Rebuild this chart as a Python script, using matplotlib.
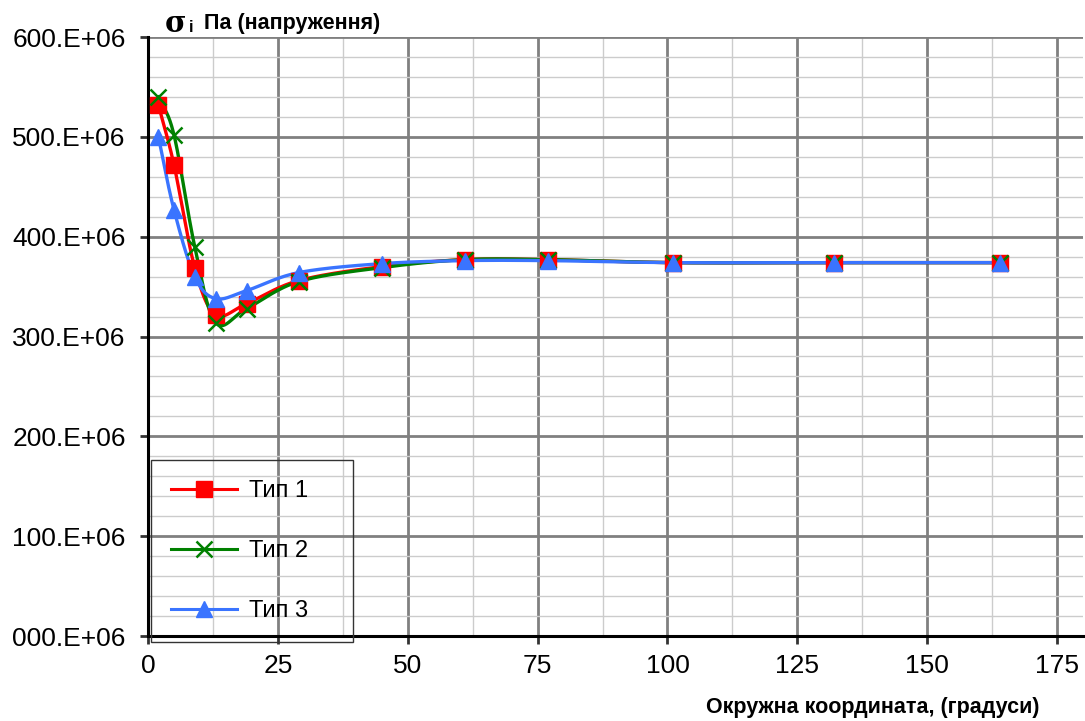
import numpy as np
import matplotlib
matplotlib.use('Agg')
import matplotlib.pyplot as plt
from matplotlib.ticker import MultipleLocator, FuncFormatter

plt.rcParams['font.family'] = ['Liberation Sans', 'DejaVu Sans']

# Кутова координата точок (градуси)
kut = [2, 5, 9, 13, 19, 29, 45, 61, 77, 101, 132, 164]

# Напруження для трьох типів (Па)
typ1 = [532e6, 472e6, 369e6, 322e6, 333e6, 356e6, 370e6, 377e6, 377e6, 374e6, 374e6, 374e6]
typ2 = [540e6, 502e6, 390e6, 314e6, 328e6, 355e6, 369e6, 377e6, 377e6, 374e6, 374e6, 374e6]
typ3 = [500e6, 427e6, 360e6, 338e6, 346e6, 364e6, 373e6, 376e6, 376e6, 374e6, 374e6, 374e6]

nazvy = ['Тип 1', 'Тип 2', 'Тип 3']
kolory = ['#ff0000', '#008000', '#3a74ff']
markery = ['s', 'x', '^']


def smooth(x, y, n=30):
    # згладжування як у Excel: сплайн Катмулла-Рома
    x = np.asarray(x, float)
    y = np.asarray(y, float)
    px = np.concatenate([[2 * x[0] - x[1]], x, [2 * x[-1] - x[-2]]])
    py = np.concatenate([[2 * y[0] - y[1]], y, [2 * y[-1] - y[-2]]])
    xs, ys = [], []
    t = np.linspace(0, 1, n)
    for i in range(1, len(px) - 2):
        p0, p1, p2, p3 = px[i - 1:i + 3]
        q0, q1, q2, q3 = py[i - 1:i + 3]
        b = [p1, p1 + (p2 - p0) / 6, p2 - (p3 - p1) / 6, p2]
        c = [q1, q1 + (q2 - q0) / 6, q2 - (q3 - q1) / 6, q2]
        w = [(1 - t) ** 3, 3 * (1 - t) ** 2 * t, 3 * (1 - t) * t ** 2, t ** 3]
        xs.append(sum(wi * bi for wi, bi in zip(w, b)))
        ys.append(sum(wi * ci for wi, ci in zip(w, c)))
    return np.concatenate(xs), np.concatenate(ys)


fig = plt.figure(figsize=(10.85, 7.21), dpi=100)
ax = fig.add_axes([148 / 1085, 1 - 636 / 721, (1083 - 148) / 1085, (636 - 37) / 721])

for y, nm, c, m in zip([typ1, typ2, typ3], nazvy, kolory, markery):
    sx, sy = smooth(kut, y)
    ax.plot(sx, sy, color=c, lw=2.4, zorder=3)
    ms = 12 if m == 'x' else 11
    mew = 1.8 if m == 'x' else 1
    ax.plot(kut, y, ls='none', marker=m, ms=ms, mew=mew, color=c, zorder=4)
    ax.plot([], [], color=c, lw=2.2, marker=m, ms=ms, mew=mew, label=nm)

ax.set_xlim(0, 180)
ax.set_ylim(0, 600e6)
ax.xaxis.set_major_locator(MultipleLocator(25))
ax.xaxis.set_minor_locator(MultipleLocator(12.5))
ax.yaxis.set_major_locator(MultipleLocator(100e6))
ax.yaxis.set_minor_locator(MultipleLocator(20e6))
ax.yaxis.set_major_formatter(FuncFormatter(lambda v, p: '%03d.E+06' % round(v / 1e6)))

ax.grid(which='major', color='#808080', lw=2)
ax.grid(which='minor', color='#cccccc', lw=1)
ax.set_axisbelow(True)
for s in ['top', 'right']:
    ax.spines[s].set_visible(False)
for s in ['left', 'bottom']:
    ax.spines[s].set_linewidth(2.2)
ax.tick_params(which='major', length=6, width=2, color='#333333', labelsize=19)
ax.tick_params(which='minor', length=0)
ax.tick_params(axis='y', pad=10)
ax.tick_params(axis='x', pad=7)

fig.text(165 / 1085, 1 - 24 / 721, 'σ', family='DejaVu Serif', fontsize=21,
         fontweight='bold', va='center', ha='left')
fig.text(189 / 1085, 1 - 28 / 721, 'i', fontsize=12, fontweight='bold', va='center', ha='left')
fig.text(204 / 1085, 1 - 24 / 721, 'Па (напруження)', fontsize=15.5, fontweight='bold',
         va='center', ha='left')
fig.text(1040 / 1085, 1 - 707 / 721, 'Окружна координата, (градуси)', fontsize=15.5,
         fontweight='bold', va='center', ha='right')

leg = ax.legend(loc='lower left', bbox_to_anchor=(0.003, -0.01, 0.216, 0.297), mode='expand',
                fontsize=17, frameon=True, fancybox=False, edgecolor='#333333',
                framealpha=1, borderpad=0.85, labelspacing=1.6, handlelength=2.8,
                borderaxespad=0, handletextpad=0.5)
leg.get_frame().set_linewidth(1)
leg.get_frame().set_facecolor('none')

fig.savefig('out.png', dpi=100)
